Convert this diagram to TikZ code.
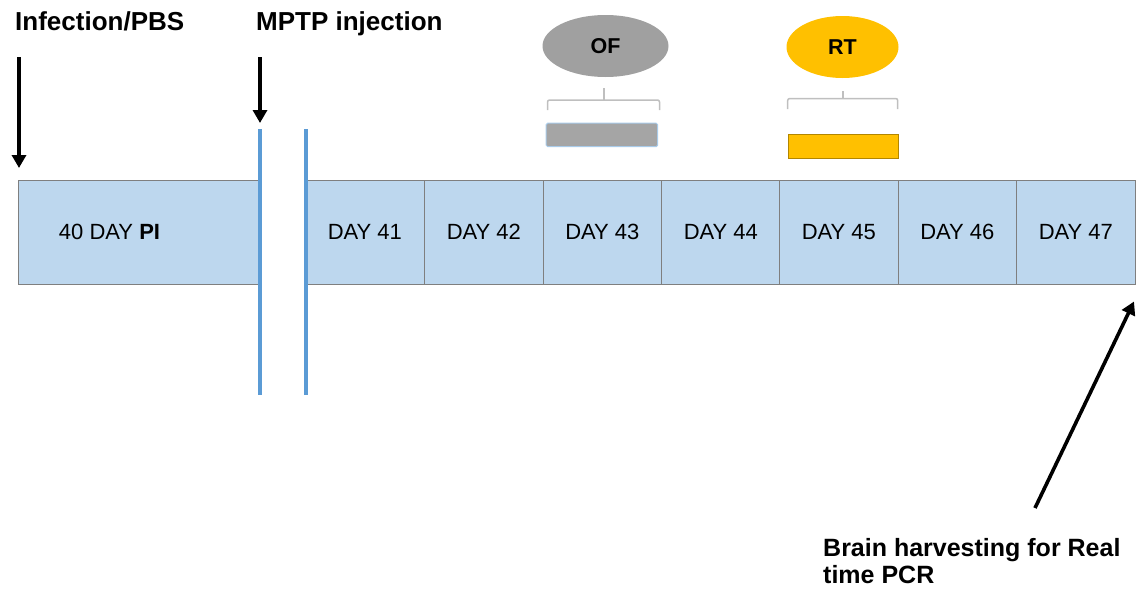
\documentclass[tikz,border=0pt]{standalone}
\usepackage{fontspec}
\setmainfont{Liberation Sans}
\usetikzlibrary{arrows.meta,shapes.geometric}
\definecolor{boxblue}{HTML}{BDD7EE}
\definecolor{boxedge}{HTML}{7F7F7F}
\definecolor{linkblue}{HTML}{5B9BD5}
\definecolor{ofgray}{HTML}{A0A0A0}
\definecolor{rtgold}{HTML}{FFC000}
\definecolor{brack}{HTML}{BFBFBF}
\tikzset{
  daybox/.style={draw=boxedge, line width=1.2pt, fill=boxblue, minimum height=104pt, inner sep=0pt, anchor=north west},
  daytxt/.style={font=\fontsize{22}{24}\selectfont, inner sep=0pt},
  title/.style={font=\fontsize{26}{27}\selectfont\bfseries, inner sep=0pt, anchor=base west},
  bigarrow/.style={line width=3.6pt, -{Triangle[width=14pt,length=13pt]}},
  breakline/.style={draw=linkblue, line width=4pt},
  bracketline/.style={draw=brack, line width=1.5pt, rounded corners=2pt},
  ovalnode/.style={ellipse, inner sep=0pt, font=\fontsize{21.5}{22}\selectfont\bfseries},
}
\begin{document}
\begin{tikzpicture}[x=1pt,y=-1pt]
\useasboundingbox (0,0) rectangle (1136,592);
% main bar
\node[daybox, minimum width=242pt] (b40) at (18,179.5) {};
\node[daytxt] (t40) at (109.5,231.5) {40 DAY \textbf{PI}};
\foreach \i/\x in {41/305,42/424,43/542.5,44/661,45/779,46/897.5,47/1016}{
  \node[daybox, minimum width=118.5pt] (b\i) at (\x,179.5) {};
  \node[daytxt] (t\i) at (b\i.center) {DAY \i};
}
% break lines
\coordinate (l1t) at (260,129);
\coordinate (l1b) at (260,395);
\coordinate (l2t) at (305.5,129);
\coordinate (l2b) at (305.5,395);
\draw[breakline] (l1t) -- (l1b);
\draw[breakline] (l2t) -- (l2b);
% titles and arrows
\node[title] (inf) at (15,30) {Infection/PBS};
\node[title] (mptp) at (256,30) {MPTP injection};
\coordinate (a1s) at (19,57);
\coordinate (a1e) at (19,168);
\coordinate (a2s) at (260,57);
\coordinate (a2e) at (260,123);
\draw[bigarrow] (a1s) -- (a1e);
\draw[bigarrow] (a2s) -- (a2e);
% OF
\node[ovalnode, fill=ofgray, minimum width=126pt, minimum height=62pt] (of) at (605.5,46) {OF};
\coordinate (ofk) at (604,88);
\draw[bracketline] (547.5,110) -- (547.5,100) -- (659.5,100) -- (659.5,110);
\draw[draw=brack, line width=1.5pt] (ofk) -- (604,100);
\node[draw=boxblue!80!linkblue, line width=1pt, fill=ofgray!95!white, rounded corners=1.5pt, minimum width=111.5pt, minimum height=23.5pt, inner sep=0pt, anchor=north west] (ofbar) at (545.7,122.7) {};
% RT
\node[ovalnode, fill=rtgold, minimum width=112pt, minimum height=62pt] (rt) at (842.5,47) {RT};
\coordinate (rtk) at (843,91);
\draw[bracketline] (787.7,109) -- (787.7,98.5) -- (897.7,98.5) -- (897.7,109);
\draw[draw=brack, line width=1.5pt] (rtk) -- (843,98.5);
\node[draw=rtgold!70!black, line width=0.8pt, fill=rtgold, minimum width=110pt, minimum height=23.5pt, inner sep=0pt, anchor=north west] (rtbar) at (787.7,134) {};
% brain harvesting
\node[font=\fontsize{25}{27}\selectfont\bfseries, align=left, inner sep=0pt, anchor=north west] (brain) at (823,538.5) {Brain harvesting for Real\\time PCR};
\coordinate (a3s) at (1035,508);
\coordinate (a3e) at (1134,301.5);
\draw[bigarrow] (a3s) -- (a3e);
\end{tikzpicture}
\end{document}
